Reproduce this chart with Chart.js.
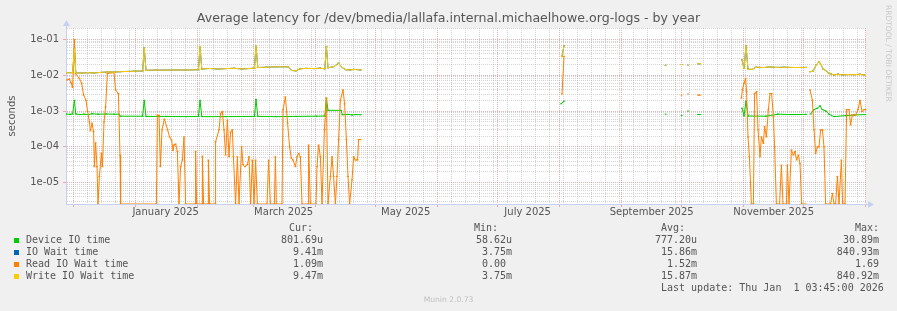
<!DOCTYPE html>
<html>
<head>
<meta charset="utf-8">
<script src="https://cdn.jsdelivr.net/npm/chart.js@4.4.0/dist/chart.umd.min.js"></script>
<style>
  html, body { margin: 0; padding: 0; background: #f0f0f0; }
  #wrap { position: relative; width: 897px; height: 311px; overflow: hidden; }
  #chart { position: absolute; left: 0; top: 0; }
  .mono { position: absolute; font-family: "DejaVu Sans Mono", monospace; font-size: 10px; line-height: 12px; color: #555; white-space: pre; }
  .sq { position: absolute; left: 14px; width: 5px; height: 5px; }
  #munin { position: absolute; left: 0; width: 897px; top: 295px; text-align: center; font-family: "DejaVu Sans", sans-serif; font-size: 7.6px; color: #c0c0c0; }
  #rrd { position: absolute; left: 883px; top: 5px; writing-mode: vertical-rl; font-family: "DejaVu Sans", sans-serif; font-size: 7.5px; line-height: 10px; color: #c8c8c8; white-space: nowrap; }
</style>
</head>
<body>
<div id="wrap">
  <canvas id="chart" width="897" height="311"></canvas>
  <div id="rrd">RRDTOOL / TOBI OETIKER</div>

  <div class="sq" style="top:238px;background:#00cc00"></div>
  <div class="sq" style="top:250px;background:#0066b3"></div>
  <div class="sq" style="top:262px;background:#ff8000"></div>
  <div class="sq" style="top:274px;background:#ffcc00"></div>
  <div class="mono" style="left:26px;top:234px">Device IO time
IO Wait time
Read IO Wait time
Write IO Wait time</div>
  <div class="mono" style="left:289px;top:222px">Cur:</div>
  <div class="mono" style="left:281px;top:234px">801.69u
  9.41m
  1.09m
  9.47m</div>
  <div class="mono" style="left:474px;top:222px">Min:</div>
  <div class="mono" style="left:470px;top:234px"> 58.62u
  3.75m
  0.00
  3.75m</div>
  <div class="mono" style="left:661px;top:222px">Avg:</div>
  <div class="mono" style="left:655px;top:234px">777.20u
 15.86m
  1.52m
 15.87m</div>
  <div class="mono" style="right:18px;top:222px;text-align:right">Max:
30.89m
840.93m
1.69
840.92m</div>
  <div class="mono" style="left:661px;top:282px">Last update: Thu Jan  1 03:45:00 2026</div>
  <div id="munin">Munin 2.0.73</div>
</div>
<script>
// x is days since the left edge of the graph (Nov 27 2024 03:45)
const monthStarts = [3.84, 34.84, 65.84, 93.84, 124.84, 154.84, 185.84, 215.84, 246.84, 277.84, 307.84, 338.84, 368.84, 399.84];
const labelDays = [49.84, 108.84, 169.84, 230.84, 292.84, 353.84];
const monthLabels = ['January 2025', 'March 2025', 'May 2025', 'July 2025', 'September 2025', 'November 2025'];

const yMajorTicks = [1e-5, 1e-4, 1e-3, 1e-2, 1e-1];
const yMajorLabels = ['1e-05', '1e-04', '1e-03', '1e-02', '1e-01'];
const Y_MIN = 2.54e-6;
const Y_MAX = 0.2094;

// Device IO time
const deviceDays = [0, 2, 3.3, 4.2, 4.9, 7, 9, 11, 13, 16, 20, 24, 26.5, 27.2, 38.3, 39.1, 40, 50, 60, 66.2, 67, 67.9, 80, 94.2, 95, 95.9, 105, 115, 125, 129.4, 130.2, 131, 137.5, 138.2, 141, 143, 145, 147.3, 148,
  247.6, 249, 250,
  299.8, 301, 307.8, 309, 311, 312, 316, 317, 318,
  338, 339, 340, 341, 350, 356, 363, 370, 371, 372.3, 374, 375.6, 377, 378.2, 380, 381.5, 384, 390, 394, 400];
const deviceVals = [0.00083, 0.00081, 0.00083, 0.002, 0.00083, 0.0008, 0.00082, 0.0008, 0.00084, 0.00082, 0.00083, 0.00082, 0.00082, 0.00072, 0.00072, 0.002, 0.00071, 0.00071, 0.0007, 0.00071, 0.002, 0.0007, 0.0007, 0.00071, 0.0021, 0.00071, 0.0007, 0.00071, 0.00072, 0.00073, 0.0023, 0.00105, 0.00105, 0.00079, 0.00081, 0.00078, 0.0008, 0.00079, null,
  0.0016, 0.0019, null,
  0.00082, null, 0.00075, null, 0.001, null, 0.0008, 0.0008, null,
  0.0012, 0.00073, 0.0019, 0.00073, 0.00072, 0.00082, 0.0008, 0.00081, null, 0.00083, 0.0011, 0.0012, 0.0014, 0.0011, 0.001, 0.00082, 0.0007, 0.00075, 0.00078, 0.0008];

// Write IO Wait time
const writeDays = [0, 3.3, 4.2, 4.9, 8, 11, 14, 17, 21.5, 24, 27, 30, 34, 38.3, 39.1, 40, 45, 50, 55, 60, 66.2, 67, 67.9, 72, 76, 80, 84, 88, 92, 94.2, 95, 95.9, 100, 105, 111, 113, 115, 117, 120, 124, 127, 129.4, 130.2, 131, 134, 136.3, 138, 140, 142, 144, 147.3, 148,
  248, 249, 250,
  299.8, 301, 307.8, 309, 311, 312, 316, 317, 318,
  338, 339, 340, 341, 343, 345, 349, 352, 355, 359, 364, 370, 371, 372, 373.5, 375, 376.5, 377.5, 378.5, 380, 381, 382.5, 384, 386, 388, 391, 394, 397, 399, 400];
const writeVals = [0.0118, 0.0118, 0.055, 0.0118, 0.0115, 0.0118, 0.0116, 0.012, 0.0125, 0.0122, 0.0126, 0.0128, 0.013, 0.0132, 0.058, 0.0138, 0.014, 0.0139, 0.0141, 0.014, 0.0143, 0.063, 0.015, 0.0155, 0.0149, 0.0154, 0.0157, 0.015, 0.0155, 0.0158, 0.065, 0.0165, 0.0168, 0.0172, 0.0172, 0.0136, 0.0133, 0.0152, 0.0156, 0.0154, 0.0158, 0.0152, 0.063, 0.0162, 0.0175, 0.0217, 0.0165, 0.0143, 0.0141, 0.0146, 0.0141, null,
  0.034, 0.066, null,
  0.019, null, 0.02, null, 0.019, null, 0.021, 0.021, null,
  0.027, 0.0157, 0.066, 0.0147, 0.0146, 0.0168, 0.0165, 0.0172, 0.0166, 0.0168, 0.0165, 0.0166, null, 0.0126, 0.013, 0.019, 0.024, 0.02, 0.015, 0.0135, 0.0118, 0.0109, 0.0102, 0.0108, 0.0102, 0.0105, 0.0104, 0.0107, 0.0102, 0.0098];

// Read IO Wait time (0 sits on the bottom edge like rrdtool does)
const readDays = [0.5, 1.7, 2.5, 3.3, 4.2, 4.8, 6.7, 7.8, 8.8, 10, 10.8, 11.7, 12.2, 13, 13.8, 14.2, 14.8, 15.5, 16, 16.7, 17.7, 18.2, 19, 19.8, 20.7, 24, 24.8, 26.2, 27, 27.3,
  45.2, 45.7, 46.5, 47.2, 48, 49.2, 50.8, 51.8, 52.8, 53.5, 54, 54.8, 55.7, 56.5, 57.3, 58.2, 59, 59.8, 64.5, 64.8, 65.3, 68, 68.2, 68.8, 71, 71.2, 71.8, 74.5, 74.8,
  76.5, 77.3, 78.2, 79, 79.8, 80.7, 81.5, 82.3, 83.2, 83.7, 84.8, 85.7, 86.5, 87.8, 88.5, 89.5, 90.7, 91.5, 92.3, 93.2, 94, 94.8, 95.7, 100.5, 101.3, 102.2, 104.2, 104.7, 105.2,
  108, 108.5, 109.7, 110.8, 111.8, 112.7, 113.5, 114.7, 115.5, 116.3, 117.2, 118, 121, 121.3, 122.2, 125, 125.5, 126.3, 127.2, 128, 129.2, 130.2, 131,
  132.2, 133, 133.8, 134.7, 135.5, 136.3, 137.2, 138.5, 139.3, 140.2, 141, 141.8, 143, 143.8, 144.7, 145.8, 146.3, 147.2, 148,
  248, 249, 250,
  307.8, 309, 311, 312, 316, 317, 318,
  337.7, 338.2, 339, 339.8, 340.3, 341, 341.7, 342.7, 343.7, 344.3, 345.3, 346, 347, 347.7, 348.7, 349.3, 350.2, 351.2, 352, 352.8, 353.7, 354.3, 355.2, 356.8,
  357.7, 358.5, 360.2, 360.7, 361.5, 362.7, 363.7, 364.5, 365.3, 366.2, 367, 367.8, 369.8, 371,
  372, 373.2, 374, 374.8, 375.7, 376.5, 377.3, 378.2, 379, 379.8, 382.3, 383.2, 384, 384.8, 385.7, 386.5, 387.7, 388.3, 389.5,
  390.3, 391.5, 392.3, 393.2, 394.8, 396, 397, 398, 399, 400];
const readVals = [0.0074, 0.0078, 0.0062, 0.0046, 0.1, 0.011, 0.0082, 0.006, 0.0028, 0.002, 0.00097, 0.0005, 0.00028, 0.00046, 0.00027, 2.8e-5, 1.3e-4, 2.8e-5, 0, 1.5e-5, 6.6e-5, 2.8e-5, 0.0005, 0.0013, 0.0113, 0.0118, 0.0039, 0.0031, 5.9e-5, 0,
  0, 0.00078, 0.00075, 2.8e-5, 0.0003, 0.0006, 0.0003, 0.00019, 0.000156, 8e-5, 0.000113, 0.00012, 7.4e-5, 0, 2.8e-5, 4.3e-5, 0.00019, 0, 0, 7.4e-5, 0, 0, 5.5e-5, 0, 0, 4.3e-5, 0, 0, 0.00014,
  0.0003, 0.00087, 0.00097, 0.0003, 5.9e-5, 0.00056, 5.3e-5, 0.00026, 0.0003, 5.3e-5, 0, 5.3e-5, 0, 0.000102, 3.2e-5, 2.8e-5, 3.2e-5, 5.3e-5, 0, 4.3e-5, 0, 4.3e-5, 0, 0, 4.3e-5, 0, 0, 5.3e-5, 0,
  0, 0.0011, 0.0025, 0.00046, 0.0001, 4.8e-5, 4.3e-5, 2.8e-5, 5.3e-5, 6.6e-5, 5.3e-5, 0, 0, 0.000113, 0, 0, 2.8e-5, 0.000113, 5.3e-5, 0, 0.0003, 0.0023, 0,
  1.5e-5, 5.3e-5, 1.5e-5, 0, 1.5e-5, 0.00016, 0.002, 0.0039, 0.0016, 0.00016, 1.5e-5, 0, 1.2e-5, 5.3e-5, 4.3e-5, 4.3e-5, 0.00016, 0.00016, null,
  0.003, 0.034, null,
  0.0028, null, 0.003, null, 0.0028, 0.0028, null,
  0.0023, 0.0039, 0.006, 0.0082, 0.0035, 0.00019, 5.3e-5, 0, 0, 0.0031, 0.0035, 0.0003, 5.3e-5, 0.00019, 0.000126, 0.00037, 0.00019, 0.0011, 0.0031, 0.0031, 0.0007, 0.0001, 0, 0,
  3.1e-5, 0, 0, 3.1e-5, 0, 8.2e-5, 5.9e-5, 7.4e-5, 4.3e-5, 5.9e-5, 3.4e-5, 0, 0, null,
  0.0039, 0.002, 0.0003, 6.6e-5, 0.0001, 0.0001, 0.0003, 0.0003, 0.0001, 0, 0, 5e-6, 0, 0, 1.5e-5, 0, 4.3e-5, 0, 0,
  0.0011, 0.0011, 0.00041, 0.00078, 0.00078, 0.0011, 0.002, 0.00097, 0.0011, 0.0011];

// IO Wait time is hidden under Write IO Wait time in the picture
const ioWaitDays = writeDays;
const ioWaitVals = writeVals;

const AXIS = '#c8d0f2';
const GRID = 'rgba(170,170,170,0.5)';
const MGRID = 'rgba(224,80,80,0.45)';
const TEXT = '#555';

function pts(days, vals) {
  return days.map((d, i) => ({ x: d, y: vals[i] === 0 ? Y_MIN : vals[i] }));
}

// x ticks: weekly minor lines, month-start major lines, mid-month labels
const xTicks = [];
for (let d = 3.84; d < 400; d += 7) {
  if (!monthStarts.some(m => Math.abs(m - d) < 0.01)) xTicks.push({ value: d, kind: 'minor' });
}
monthStarts.forEach(d => xTicks.push({ value: d, kind: 'major' }));
labelDays.forEach((d, i) => xTicks.push({ value: d, kind: 'label', text: monthLabels[i] }));
xTicks.sort((a, b) => a.value - b.value);

const yTicks = [];
for (let e = -6; e <= -1; e++) {
  for (let m = 1; m <= 9; m++) {
    const v = m * Math.pow(10, e);
    if (v < Y_MIN || v > Y_MAX) continue;
    const mi = yMajorTicks.findIndex(t => Math.abs(t - v) / t < 1e-6);
    yTicks.push(mi >= 0 ? { value: v, kind: 'major', text: yMajorLabels[mi] } : { value: v, kind: 'minor' });
  }
}

const plotBg = {
  id: 'plotBg',
  beforeDraw(c) {
    const { ctx, chartArea: a } = c;
    ctx.save();
    ctx.fillStyle = '#fff';
    ctx.fillRect(a.left, a.top, a.right - a.left, a.bottom - a.top);
    ctx.restore();
  }
};

const arrows = {
  id: 'arrows',
  afterDraw(c) {
    const { ctx, chartArea: a } = c;
    ctx.save();
    ctx.fillStyle = AXIS;
    ctx.strokeStyle = AXIS;
    ctx.lineWidth = 1;
    ctx.beginPath();
    ctx.moveTo(a.left + 0.5, a.top);
    ctx.lineTo(a.left + 0.5, a.top - 3);
    ctx.moveTo(a.right, a.bottom + 0.5);
    ctx.lineTo(a.right + 3, a.bottom + 0.5);
    ctx.stroke();
    ctx.beginPath();
    ctx.moveTo(a.left - 3, a.top - 2);
    ctx.lineTo(a.left + 4, a.top - 2);
    ctx.lineTo(a.left + 0.5, a.top - 8);
    ctx.closePath();
    ctx.fill();
    ctx.beginPath();
    ctx.moveTo(a.right + 2, a.bottom - 3);
    ctx.lineTo(a.right + 2, a.bottom + 4);
    ctx.lineTo(a.right + 8, a.bottom + 0.5);
    ctx.closePath();
    ctx.fill();
    ctx.restore();
  }
};

function series(label, color, days, vals) {
  return {
    label,
    data: pts(days, vals),
    borderColor: color,
    backgroundColor: color,
    borderWidth: 1,
    pointStyle: 'line',
    pointRadius: 1,
    pointBorderWidth: 1,
    pointBorderColor: color,
    pointHoverRadius: 0,
    pointHitRadius: 0,
    tension: 0,
    fill: false
  };
}

const ctx = document.getElementById('chart').getContext('2d');
new Chart(ctx, {
  type: 'line',
  data: {
    datasets: [
      series('Write IO Wait time', '#ffcc00', writeDays, writeVals),
      series('Read IO Wait time', '#ff8000', readDays, readVals),
      series('IO Wait time', '#0066b3', ioWaitDays, ioWaitVals),
      series('Device IO time', '#00cc00', deviceDays, deviceVals)
    ]
  },
  options: {
    responsive: false,
    animation: false,
    devicePixelRatio: 1,
    events: [],
    layout: { padding: { left: 0, right: 0, top: 0, bottom: 87 } },
    plugins: {
      legend: { display: false },
      tooltip: { enabled: false },
      title: {
        display: true,
        text: 'Average latency for /dev/bmedia/lallafa.internal.michaelhowe.org-logs - by year',
        color: TEXT,
        font: { family: 'DejaVu Sans', size: 12.6, weight: 'normal', lineHeight: '16px' },
        padding: { top: 11, bottom: 1 }
      }
    },
    scales: {
      x: {
        type: 'linear',
        min: 0,
        max: 400,
        bounds: 'data',
        afterFit: s => { s.height = 20; },
        afterBuildTicks: s => { s.ticks = xTicks.map(t => Object.assign({}, t)); },
        grid: {
          color: c => c.tick ? (c.tick.kind === 'major' ? MGRID : c.tick.kind === 'minor' ? GRID : 'rgba(0,0,0,0)') : GRID,
          lineWidth: 1,
          drawTicks: true,
          tickLength: 3,
          tickColor: c => c.tick && c.tick.kind === 'major' ? MGRID : 'rgba(0,0,0,0)'
        },
        border: { display: true, color: AXIS, width: 1, dash: [1, 1] },
        ticks: {
          autoSkip: false,
          maxRotation: 0,
          minRotation: 0,
          padding: -1,
          color: TEXT,
          font: { family: 'DejaVu Sans', size: 10 },
          callback: (v, i, ticks) => ticks[i].text || ''
        }
      },
      y: {
        type: 'logarithmic',
        min: Y_MIN,
        max: Y_MAX,
        bounds: 'data',
        afterFit: s => { s.width = 66; },
        afterBuildTicks: s => { s.ticks = yTicks.map(t => Object.assign({}, t)); },
        title: {
          display: true,
          text: 'seconds',
          color: TEXT,
          font: { family: 'DejaVu Sans', size: 10 },
          padding: { top: 6, bottom: 0 }
        },
        grid: {
          color: c => c.tick && c.tick.kind === 'major' ? MGRID : GRID,
          lineWidth: 1,
          drawTicks: true,
          tickLength: 3,
          tickColor: c => c.tick && c.tick.kind === 'major' ? MGRID : 'rgba(0,0,0,0)'
        },
        border: { display: true, color: AXIS, width: 1, dash: [1, 1] },
        ticks: {
          autoSkip: false,
          padding: 4,
          color: TEXT,
          font: { family: 'DejaVu Sans', size: 10 },
          callback: (v, i, ticks) => ticks[i].text || ''
        }
      },
      // empty right-hand gutter so the title stays centred on the whole image
      gutter: {
        type: 'linear',
        position: 'right',
        display: true,
        afterFit: s => { s.width = 31; },
        grid: { display: false, drawTicks: false },
        border: { display: false },
        ticks: { display: false }
      }
    }
  },
  plugins: [plotBg, arrows]
});
</script>
</body>
</html>
